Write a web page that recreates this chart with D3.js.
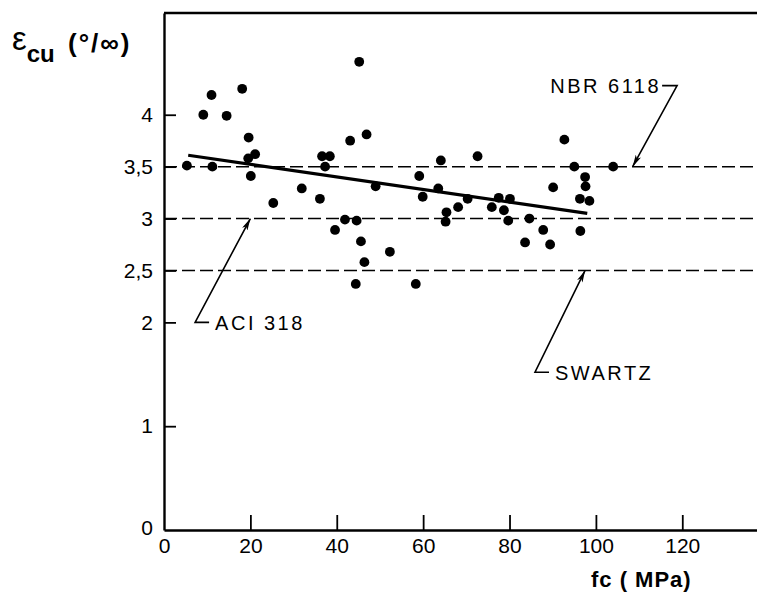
<!DOCTYPE html>
<html>
<head>
    <style>
        body {
            margin: 0;
            background: white;
            font-family: "Liberation Sans", Arial, sans-serif;
        }

        .tick text {
            font-size: 21px;
            fill: #000;
        }

        .tick line {
            stroke: #000;
            stroke-width: 1.8;
        }

        .domain {
            stroke: #000;
            stroke-width: 2.4;
        }

        .ref-line {
            stroke: #000;
            stroke-width: 1.5;
            stroke-dasharray: 13 5;
        }

        .note {
            font-size: 20px;
            letter-spacing: 2.5px;
            fill: #000;
        }

        .leader {
            fill: none;
            stroke: #000;
            stroke-width: 1.6;
        }
    </style>
</head>
<body>
    <div id="chart"></div>
    <script src="https://cdnjs.cloudflare.com/ajax/libs/d3/7.8.5/d3.min.js"></script>
    <script>
        // measured points: fc (MPa) and ultimate strain (per mille)
        const fc = [45.2, 11.0, 18.1, 9.1, 14.5, 19.6, 46.9, 43.1, 21.1, 19.5,
            36.6, 38.4, 5.3, 11.2, 37.3, 64.1, 20.1, 59.1, 49.0, 63.5,
            31.9, 36.1, 59.9, 25.3, 65.4, 65.2, 41.9, 44.6, 39.6, 45.6,
            52.3, 46.4, 44.4, 58.3, 92.7, 72.6, 95.0, 104.0, 97.5, 97.6,
            90.1, 70.3, 77.5, 80.1, 68.1, 75.9, 78.7, 96.3, 98.5, 79.7,
            84.6, 87.8, 96.4, 83.6, 89.4];
        const ecu = [4.51, 4.19, 4.25, 4.00, 3.99, 3.78, 3.81, 3.75, 3.62, 3.58,
            3.60, 3.60, 3.51, 3.50, 3.50, 3.56, 3.41, 3.41, 3.31, 3.29,
            3.29, 3.19, 3.21, 3.15, 3.06, 2.97, 2.99, 2.98, 2.89, 2.78,
            2.68, 2.58, 2.37, 2.37, 3.76, 3.60, 3.50, 3.50, 3.40, 3.31,
            3.30, 3.19, 3.20, 3.19, 3.11, 3.11, 3.08, 3.19, 3.17, 2.98,
            3.00, 2.89, 2.88, 2.77, 2.75];

        // fitted trend line ends
        const fitX = [5.6, 98.0];
        const fitY = [3.61, 3.05];

        // code limits (dashed lines) and their labels
        const refNames = ["NBR 6118", "ACI 318", "SWARTZ"];
        const refValues = [3.5, 3.0, 2.5];
        const arrowTipX = [108.5, 20, 97.5];
        const labelAtX = [118.8, 7.2, 85.9];
        const labelAtY = [4.28, 2.0, 1.52];

        const xTicks = [0, 20, 40, 60, 80, 100, 120];
        const yTicks = [0, 1, 2, 2.5, 3, 3.5, 4];

        const width = 757, height = 610;

        const svg = d3.select("#chart")
            .append("svg")
            .attr("width", width)
            .attr("height", height);

        const x = d3.scaleLinear().domain([0, 137.3]).range([164, 757]);
        const y = d3.scaleLinear().domain([0, 4.98]).range([530, 13]);

        const comma = d => String(d).replace(".", ",");

        // arrow head
        svg.append("defs").append("marker")
            .attr("id", "head")
            .attr("viewBox", "0 0 12 6")
            .attr("refX", 12)
            .attr("refY", 3)
            .attr("markerWidth", 12)
            .attr("markerHeight", 6)
            .attr("markerUnits", "userSpaceOnUse")
            .attr("orient", "auto")
            .append("path")
            .attr("d", "M0,0 L12,3 L0,6 L3,3 Z")
            .attr("fill", "#000");

        // dashed reference lines
        svg.selectAll(".ref-line")
            .data(refValues)
            .enter()
            .append("line")
            .attr("class", "ref-line")
            .attr("x1", x(0))
            .attr("x2", x(137.3))
            .attr("y1", d => y(d))
            .attr("y2", d => y(d));

        // X axis, ticks pointing up into the plot
        const xAxisGroup = svg.append("g")
            .attr("transform", `translate(0,${y(0)})`)
            .call(d3.axisBottom(x).tickValues(xTicks).tickSize(-15).tickSizeOuter(0).tickPadding(8));
        xAxisGroup.select(".domain").attr("stroke-width", 2);
        xAxisGroup.selectAll(".tick").filter(d => d === 0).select("line").remove();

        // Y axis, ticks pointing right
        const yAxisGroup = svg.append("g")
            .attr("transform", `translate(${x(0)},0)`)
            .call(d3.axisLeft(y).tickValues(yTicks).tickFormat(comma).tickSize(-12).tickSizeOuter(0).tickPadding(11));
        yAxisGroup.selectAll(".tick").filter(d => d === 0).select("line").remove();
        yAxisGroup.selectAll(".tick").filter(d => d === 0).select("text").attr("dy", "0.2em");

        // top frame line
        svg.append("line")
            .attr("x1", x(0)).attr("x2", x(137.3))
            .attr("y1", y(4.98)).attr("y2", y(4.98))
            .attr("stroke", "#000")
            .attr("stroke-width", 2.4);

        // points
        svg.selectAll(".dot")
            .data(fc)
            .enter()
            .append("circle")
            .attr("class", "dot")
            .attr("cx", d => x(d))
            .attr("cy", (d, i) => y(ecu[i]))
            .attr("r", 4.9)
            .attr("fill", "#000");

        // trend line
        svg.append("line")
            .attr("x1", x(fitX[0])).attr("y1", y(fitY[0]))
            .attr("x2", x(fitX[1])).attr("y2", y(fitY[1]))
            .attr("stroke", "#000")
            .attr("stroke-width", 3.2);

        // NBR 6118: label above, leader turns down to the line
        svg.append("path")
            .attr("class", "leader")
            .attr("d", `M${x(labelAtX[0]) - 15},${y(labelAtY[0])} L${x(labelAtX[0])},${y(labelAtY[0])} L${x(arrowTipX[0])},${y(refValues[0])}`)
            .attr("marker-end", "url(#head)");
        svg.append("text")
            .attr("class", "note")
            .attr("x", x(labelAtX[0]) - 16)
            .attr("y", y(labelAtY[0]) + 7)
            .attr("text-anchor", "end")
            .text(refNames[0]);

        // ACI 318 and SWARTZ: label below, leader goes up to the line
        [1, 2].forEach(i => {
            const cx = x(labelAtX[i]), cy = y(labelAtY[i]);
            svg.append("path")
                .attr("class", "leader")
                .attr("d", `M${cx + 14},${cy} L${cx},${cy} L${x(arrowTipX[i])},${y(refValues[i])}`)
                .attr("marker-end", "url(#head)");
            svg.append("text")
                .attr("class", "note")
                .attr("x", cx + 20)
                .attr("y", cy + 8)
                .text(refNames[i]);
        });

        // axis titles
        const yTitle = svg.append("text")
            .attr("x", 12)
            .attr("y", 50);
        yTitle.append("tspan")
            .style("font-size", "33px")
            .text("ε");
        yTitle.append("tspan")
            .attr("dy", 12)
            .style("font-size", "24px")
            .style("font-weight", "bold")
            .text("cu");
        yTitle.append("tspan")
            .attr("x", 68)
            .attr("y", 52)
            .style("font-size", "26px")
            .style("font-weight", "bold")
            .style("letter-spacing", "2px")
            .text("(°/∞)");

        svg.append("text")
            .attr("x", 591)
            .attr("y", 587)
            .style("font-size", "22px")
            .style("font-weight", "bold")
            .style("letter-spacing", "1px")
            .text("fc ( MPa)");
    </script>
</body>
</html>
